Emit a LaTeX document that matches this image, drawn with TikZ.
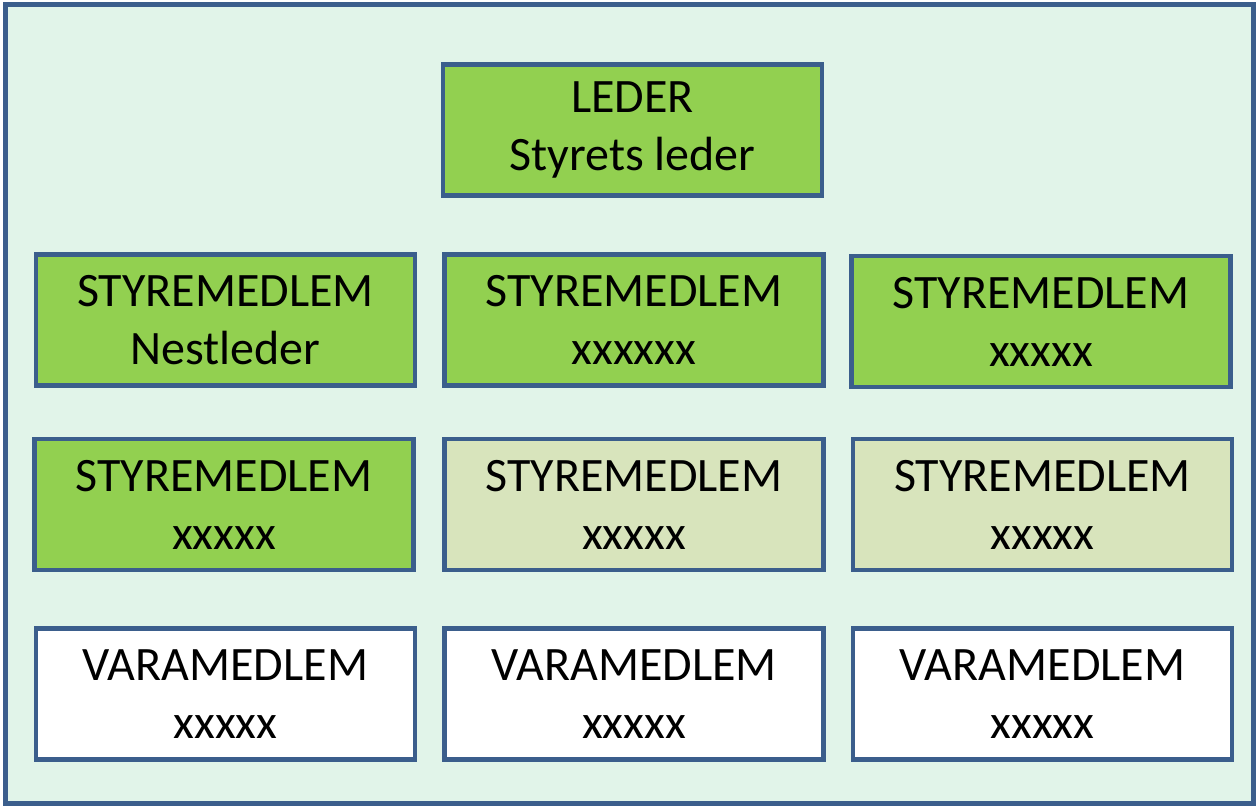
\documentclass[tikz,border=0pt]{standalone}
\usepackage{fontspec}
\setmainfont{Carlito}
\definecolor{rammeblaa}{RGB}{59,94,140}
\definecolor{bakgrunn}{RGB}{225,244,233}
\definecolor{styregronn}{RGB}{146,208,80}
\definecolor{blekgronn}{RGB}{216,228,188}
\tikzset{
  medlem/.style={draw=rammeblaa,line width=4.5pt,minimum width=379pt,minimum height=131pt,
    align=center,inner sep=0pt,font=\fontsize{48}{58}\selectfont},
  gronn/.style={medlem,fill=styregronn},
  blek/.style={medlem,fill=blekgronn},
  vara/.style={medlem,fill=white}
}
\begin{document}
\begin{tikzpicture}[x=1pt,y=-1pt]
        \useasboundingbox (0,0) rectangle (1258,808);
        \draw [draw=rammeblaa,fill=bakgrunn,line width=5pt] (5,5) rectangle (1253,803);
        \node [gronn] (leder) at (632.5,130) {LEDER\\Styrets leder};
        \node [gronn] (nestleder) at (225.5,320) {STYREMEDLEM\\Nestleder};
        \node [gronn] (medlemA) at (634,320) {STYREMEDLEM\\xxxxxx};
        \node [gronn] (medlemB) at (1041,321.5) {STYREMEDLEM\\xxxxx};
        \node [gronn] (medlemC) at (224,504.5) {STYREMEDLEM\\xxxxx};
        \node [blek] (medlemD) at (634,504.5) {STYREMEDLEM\\xxxxx};
        \node [blek] (medlemE) at (1042.5,504.5) {STYREMEDLEM\\xxxxx};
        \node [vara] (varaA) at (225.5,694) {VARAMEDLEM\\xxxxx};
        \node [vara] (varaB) at (634,694) {VARAMEDLEM\\xxxxx};
        \node [vara] (varaC) at (1042.5,694) {VARAMEDLEM\\xxxxx};
    \end{tikzpicture}
\end{document}
